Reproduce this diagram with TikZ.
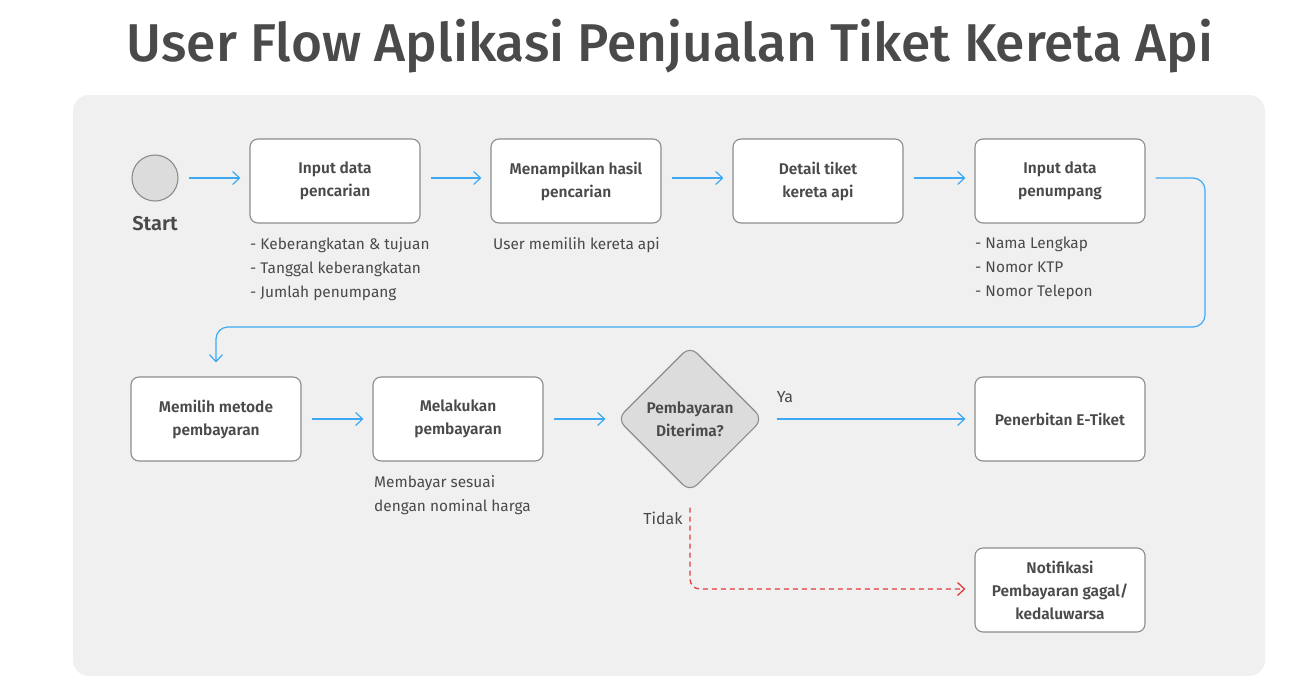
\documentclass[tikz,border=0pt]{standalone}
\usepackage{fontspec}
\setmainfont{Fira Sans}
\newfontfamily\titlefont{Fira Sans Medium}
\newfontfamily\semifont{Fira Sans SemiBold}
\usetikzlibrary{arrows.meta,shapes.geometric}
\definecolor{panel}{HTML}{F0F0F0}
\definecolor{txt}{HTML}{4A4A4A}
\definecolor{edge}{HTML}{8C8C8C}
\definecolor{flow}{HTML}{3DA9F5}
\definecolor{fail}{HTML}{E03C3C}
\definecolor{dia}{HTML}{DCDCDC}
\tikzset{
  stepbox/.style={draw=edge, line width=1.1pt, fill=white, rounded corners=8pt,
    minimum width=170pt, minimum height=84pt, align=center, inner sep=0pt,
    font=\semifont\fontsize{15.5pt}{23pt}\selectfont, text=txt},
  note/.style={align=left, anchor=north west, inner sep=0pt,
    font=\fontsize{15.4pt}{24pt}\selectfont, text=txt},
  flowarrow/.style={draw=flow, line width=1.2pt, -{Straight Barb[length=7pt,width=13pt]}},
  failarrow/.style={draw=fail, line width=1.3pt, dashed, dash pattern=on 5pt off 4pt,
    -{Straight Barb[length=7pt,width=13pt]}},
  lbl/.style={inner sep=0pt, font=\fontsize{16pt}{18pt}\selectfont, text=txt},
}
\begin{document}
\begin{tikzpicture}[x=1pt,y=-1pt]
\useasboundingbox (0,0) rectangle (1300,694);
\fill[panel, rounded corners=16pt] (73,95) rectangle (1265,676);
\node[text=txt, font=\titlefont\fontsize{53.2pt}{60pt}\selectfont, inner sep=0pt] (title) at (670,46) {User Flow Aplikasi Penjualan Tiket Kereta Api};

\node[circle, draw=edge, fill=dia, line width=1.1pt, minimum size=46pt, inner sep=0pt] (start) at (155,178) {};
\node[text=txt, font=\semifont\fontsize{20pt}{22pt}\selectfont, inner sep=0pt] (startlbl) at (155,224) {Start};

\node[stepbox] (b1) at (335,181) {Input data\\pencarian};
\node[stepbox] (b2) at (576,181) {Menampilkan hasil\\pencarian};
\node[stepbox] (b3) at (818,181) {Detail tiket\\kereta api};
\node[stepbox] (b4) at (1060,181) {Input data\\penumpang};

\node[note] (n1) at (250,237) {- Keberangkatan \& tujuan\\- Tanggal keberangkatan\\- Jumlah penumpang};
\node[note] (n2) at (493,237) {User memilih kereta api};
\node[note] (n4) at (975,237) {- Nama Lengkap\\- Nomor KTP\\- Nomor Telepon};

\node[stepbox] (b5) at (216,419) {Memilih metode\\pembayaran};
\node[stepbox] (b6) at (458,419) {Melakukan\\pembayaran};
\node[diamond, draw=edge, fill=dia, line width=1.1pt, rounded corners=10pt, minimum width=146pt, minimum height=146pt, inner sep=0pt, align=center, font=\semifont\fontsize{15.5pt}{23pt}\selectfont, text=txt] (d) at (690,419) {Pembayaran\\Diterima?};
\node[stepbox] (b7) at (1060,419) {Penerbitan E-Tiket};
\node[stepbox] (b8) at (1060,590) {Notifikasi\\Pembayaran gagal/\\kedaluwarsa};

\node[note] (n6) at (374,475) {Membayar sesuai\\dengan nominal harga};

\draw[flowarrow, shorten <=10pt, shorten >=9pt] (start.east) -- (b1.west |- start.east);
\draw[flowarrow, shorten <=10pt, shorten >=9pt] (b1.east |- 0,178) -- (b2.west |- 0,178);
\draw[flowarrow, shorten <=10pt, shorten >=9pt] (b2.east |- 0,178) -- (b3.west |- 0,178);
\draw[flowarrow, shorten <=10pt, shorten >=9pt] (b3.east |- 0,178) -- (b4.west |- 0,178);
\coordinate (c1) at (1205,327);
\draw[flowarrow, rounded corners=12pt, shorten <=10pt, shorten >=14pt] (b4.east |- 0,178) -- (c1 |- 0,178) -- (c1) -- (b5.north |- c1) -- (b5.north);

\draw[flowarrow, shorten <=10pt, shorten >=9pt] (b5.east) -- (b6.west);
\draw[flowarrow, shorten <=10pt, shorten >=11pt] (b6.east) -- (d.west);
\draw[flowarrow, shorten <=13pt, shorten >=9pt] (d.east) -- (b7.west);
\node[lbl] (ya) at (785,397) {Ya};

\coordinate (c2) at (690,589);
\draw[failarrow, rounded corners=10pt, shorten <=15pt, shorten >=9pt] (d.south) -- (c2) -- (b8.west |- c2);
\node[lbl] (tidak) at (663,518) {Tidak};
\end{tikzpicture}
\end{document}
